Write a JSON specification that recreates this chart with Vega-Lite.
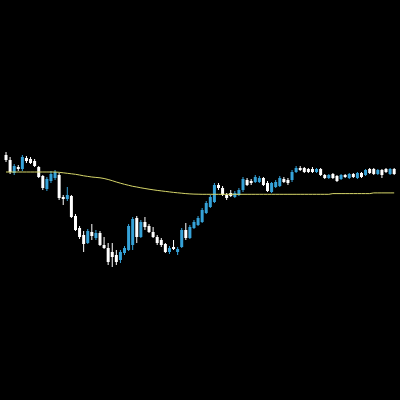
{
  "$schema": "https://vega.github.io/schema/vega-lite/v6.json",
  "width": 400,
  "height": 400,
  "padding": 0,
  "autosize": {"type": "fit", "contains": "padding"},
  "background": "#000000",
  "config": {"view": {"stroke": null}},
  "data": {"values": [
    {"t":0,"o":1.1245,"h":1.1248,"l":1.1238,"c":1.1240,"ma":1.1228},
    {"t":1,"o":1.1240,"h":1.1243,"l":1.1226,"c":1.1228,"ma":1.1228},
    {"t":2,"o":1.1227,"h":1.1236,"l":1.1225,"c":1.1234,"ma":1.1228},
    {"t":3,"o":1.1233,"h":1.1235,"l":1.1229,"c":1.1231,"ma":1.1228},
    {"t":4,"o":1.1231,"h":1.1245,"l":1.1229,"c":1.1243,"ma":1.1228},
    {"t":5,"o":1.1242,"h":1.1244,"l":1.1237,"c":1.1239,"ma":1.1228},
    {"t":6,"o":1.1241,"h":1.1243,"l":1.1236,"c":1.1237,"ma":1.1228},
    {"t":7,"o":1.1239,"h":1.1241,"l":1.1233,"c":1.1234,"ma":1.1228},
    {"t":8,"o":1.1233,"h":1.1234,"l":1.1222,"c":1.1223,"ma":1.1228},
    {"t":9,"o":1.1224,"h":1.1225,"l":1.1210,"c":1.1212,"ma":1.1228},
    {"t":10,"o":1.1211,"h":1.1223,"l":1.1209,"c":1.1221,"ma":1.1228},
    {"t":11,"o":1.1219,"h":1.1229,"l":1.1217,"c":1.1226,"ma":1.1228},
    {"t":12,"o":1.1222,"h":1.1230,"l":1.1220,"c":1.1228,"ma":1.1228},
    {"t":13,"o":1.1225,"h":1.1227,"l":1.1200,"c":1.1202,"ma":1.12277},
    {"t":14,"o":1.1203,"h":1.1205,"l":1.1195,"c":1.1201,"ma":1.12272},
    {"t":15,"o":1.1201,"h":1.1213,"l":1.1199,"c":1.1205,"ma":1.12267},
    {"t":16,"o":1.1204,"h":1.1205,"l":1.1182,"c":1.1183,"ma":1.12262},
    {"t":17,"o":1.1184,"h":1.1186,"l":1.1169,"c":1.1170,"ma":1.12257},
    {"t":18,"o":1.1172,"h":1.1174,"l":1.1161,"c":1.1163,"ma":1.1225},
    {"t":19,"o":1.1165,"h":1.1169,"l":1.1148,"c":1.1156,"ma":1.12242},
    {"t":20,"o":1.1157,"h":1.1171,"l":1.1156,"c":1.1169,"ma":1.12236},
    {"t":21,"o":1.1168,"h":1.1176,"l":1.1160,"c":1.1164,"ma":1.1223},
    {"t":22,"o":1.1162,"h":1.1170,"l":1.1160,"c":1.1167,"ma":1.12226},
    {"t":23,"o":1.1167,"h":1.1169,"l":1.1154,"c":1.1155,"ma":1.12222},
    {"t":24,"o":1.1155,"h":1.1163,"l":1.1151,"c":1.1152,"ma":1.12215},
    {"t":25,"o":1.1152,"h":1.1157,"l":1.1135,"c":1.1138,"ma":1.12205},
    {"t":26,"o":1.1148,"h":1.1157,"l":1.1133,"c":1.1143,"ma":1.12193},
    {"t":27,"o":1.1145,"h":1.1150,"l":1.1135,"c":1.1138,"ma":1.1218},
    {"t":28,"o":1.1140,"h":1.1150,"l":1.1137,"c":1.1148,"ma":1.12168},
    {"t":29,"o":1.1147,"h":1.1154,"l":1.1145,"c":1.1152,"ma":1.12157},
    {"t":30,"o":1.1150,"h":1.1176,"l":1.1149,"c":1.1174,"ma":1.12147},
    {"t":31,"o":1.1155,"h":1.1183,"l":1.1150,"c":1.1181,"ma":1.12137},
    {"t":32,"o":1.1182,"h":1.1184,"l":1.1157,"c":1.1163,"ma":1.1213},
    {"t":33,"o":1.1163,"h":1.1180,"l":1.1162,"c":1.1178,"ma":1.12122},
    {"t":34,"o":1.1178,"h":1.1183,"l":1.1170,"c":1.1173,"ma":1.12115},
    {"t":35,"o":1.1174,"h":1.1176,"l":1.1167,"c":1.1168,"ma":1.12108},
    {"t":36,"o":1.1168,"h":1.1173,"l":1.1162,"c":1.1163,"ma":1.12102},
    {"t":37,"o":1.1163,"h":1.1165,"l":1.1155,"c":1.1157,"ma":1.12096},
    {"t":38,"o":1.1160,"h":1.1162,"l":1.1153,"c":1.1155,"ma":1.12091},
    {"t":39,"o":1.1156,"h":1.1157,"l":1.1147,"c":1.1148,"ma":1.12086},
    {"t":40,"o":1.1148,"h":1.1154,"l":1.1146,"c":1.1152,"ma":1.12081},
    {"t":41,"o":1.1153,"h":1.1160,"l":1.1150,"c":1.1151,"ma":1.12076},
    {"t":42,"o":1.1148,"h":1.1153,"l":1.1145,"c":1.1151,"ma":1.12072},
    {"t":43,"o":1.1153,"h":1.1172,"l":1.1152,"c":1.1170,"ma":1.12068},
    {"t":44,"o":1.1170,"h":1.1177,"l":1.1160,"c":1.1162,"ma":1.12064},
    {"t":45,"o":1.1162,"h":1.1175,"l":1.1161,"c":1.1173,"ma":1.12061},
    {"t":46,"o":1.1172,"h":1.1180,"l":1.1171,"c":1.1178,"ma":1.12059},
    {"t":47,"o":1.1175,"h":1.1184,"l":1.1174,"c":1.1182,"ma":1.12058},
    {"t":48,"o":1.1178,"h":1.1192,"l":1.1177,"c":1.1190,"ma":1.12057},
    {"t":49,"o":1.1187,"h":1.1199,"l":1.1186,"c":1.1197,"ma":1.12057},
    {"t":50,"o":1.1193,"h":1.1205,"l":1.1192,"c":1.1203,"ma":1.12057},
    {"t":51,"o":1.1198,"h":1.1217,"l":1.1197,"c":1.1215,"ma":1.12057},
    {"t":52,"o":1.1215,"h":1.1217,"l":1.1210,"c":1.1212,"ma":1.12057},
    {"t":53,"o":1.1212,"h":1.1214,"l":1.1204,"c":1.1205,"ma":1.12057},
    {"t":54,"o":1.1205,"h":1.1207,"l":1.1200,"c":1.1202,"ma":1.12057},
    {"t":55,"o":1.1207,"h":1.1210,"l":1.1203,"c":1.1204,"ma":1.12057},
    {"t":56,"o":1.1203,"h":1.1209,"l":1.1202,"c":1.1207,"ma":1.12057},
    {"t":57,"o":1.1205,"h":1.1212,"l":1.1204,"c":1.1210,"ma":1.12057},
    {"t":58,"o":1.1210,"h":1.1223,"l":1.1208,"c":1.1221,"ma":1.12057},
    {"t":59,"o":1.1220,"h":1.1222,"l":1.1214,"c":1.1215,"ma":1.12057},
    {"t":60,"o":1.1219,"h":1.1221,"l":1.1215,"c":1.1217,"ma":1.12057},
    {"t":61,"o":1.1218,"h":1.1225,"l":1.1217,"c":1.1223,"ma":1.12057},
    {"t":62,"o":1.1218,"h":1.1224,"l":1.1217,"c":1.1222,"ma":1.12057},
    {"t":63,"o":1.1222,"h":1.1223,"l":1.1214,"c":1.1215,"ma":1.12057},
    {"t":64,"o":1.1217,"h":1.1219,"l":1.1208,"c":1.1209,"ma":1.12057},
    {"t":65,"o":1.1208,"h":1.1218,"l":1.1207,"c":1.1217,"ma":1.12057},
    {"t":66,"o":1.1213,"h":1.1220,"l":1.1212,"c":1.1218,"ma":1.12057},
    {"t":67,"o":1.1214,"h":1.1224,"l":1.1213,"c":1.1222,"ma":1.12057},
    {"t":68,"o":1.1221,"h":1.1223,"l":1.1217,"c":1.1218,"ma":1.12057},
    {"t":69,"o":1.1220,"h":1.1222,"l":1.1215,"c":1.1217,"ma":1.12057},
    {"t":70,"o":1.1220,"h":1.1230,"l":1.1218,"c":1.1228,"ma":1.12057},
    {"t":71,"o":1.1228,"h":1.1234,"l":1.1227,"c":1.1232,"ma":1.12057},
    {"t":72,"o":1.1232,"h":1.1234,"l":1.1229,"c":1.1230,"ma":1.12057},
    {"t":73,"o":1.1232,"h":1.1233,"l":1.1227,"c":1.1228,"ma":1.12057},
    {"t":74,"o":1.1231,"h":1.1232,"l":1.1227,"c":1.1228,"ma":1.12057},
    {"t":75,"o":1.1231,"h":1.1233,"l":1.1227,"c":1.1228,"ma":1.12057},
    {"t":76,"o":1.1228,"h":1.1232,"l":1.1227,"c":1.1231,"ma":1.12057},
    {"t":77,"o":1.1231,"h":1.1232,"l":1.1224,"c":1.1225,"ma":1.12057},
    {"t":78,"o":1.1225,"h":1.1226,"l":1.1221,"c":1.1222,"ma":1.12057},
    {"t":79,"o":1.1222,"h":1.1226,"l":1.1221,"c":1.1225,"ma":1.12057},
    {"t":80,"o":1.1226,"h":1.1227,"l":1.1221,"c":1.1222,"ma":1.12064},
    {"t":81,"o":1.1224,"h":1.1225,"l":1.1218,"c":1.1219,"ma":1.12064},
    {"t":82,"o":1.1221,"h":1.1226,"l":1.1220,"c":1.1225,"ma":1.12064},
    {"t":83,"o":1.1225,"h":1.1226,"l":1.1222,"c":1.1223,"ma":1.12064},
    {"t":84,"o":1.1222,"h":1.1227,"l":1.1221,"c":1.1226,"ma":1.12064},
    {"t":85,"o":1.1226,"h":1.1227,"l":1.1222,"c":1.1223,"ma":1.12064},
    {"t":86,"o":1.1222,"h":1.1228,"l":1.1221,"c":1.1227,"ma":1.12064},
    {"t":87,"o":1.1227,"h":1.1228,"l":1.1222,"c":1.1223,"ma":1.12064},
    {"t":88,"o":1.1225,"h":1.1231,"l":1.1224,"c":1.1230,"ma":1.12064},
    {"t":89,"o":1.1231,"h":1.1232,"l":1.1226,"c":1.1227,"ma":1.12064},
    {"t":90,"o":1.1231,"h":1.1232,"l":1.1225,"c":1.1226,"ma":1.12071},
    {"t":91,"o":1.1226,"h":1.1231,"l":1.1225,"c":1.1230,"ma":1.12071},
    {"t":92,"o":1.1230,"h":1.1231,"l":1.1222,"c":1.1225,"ma":1.12071},
    {"t":93,"o":1.1231,"h":1.1232,"l":1.1227,"c":1.1228,"ma":1.12071},
    {"t":94,"o":1.1226,"h":1.1232,"l":1.1225,"c":1.1231,"ma":1.12071},
    {"t":95,"o":1.1231,"h":1.1232,"l":1.1225,"c":1.1226,"ma":1.12071}
  ]},
  "encoding": {
    "x": {"field": "t", "type": "quantitative", "scale": {"domain": [-0.25, 95.2], "nice": false, "zero": false}, "axis": null}
  },
  "layer": [
    {
      "mark": {"type": "rule", "strokeWidth": 1},
      "encoding": {
        "y": {"field": "l", "type": "quantitative", "scale": {"domain": [1.1, 1.14], "nice": false, "zero": false}, "axis": null},
        "y2": {"field": "h"},
        "color": {"condition": {"test": "datum.c > datum.o", "value": "#35a2d8"}, "value": "#ffffff"}
      }
    },
    {
      "mark": {"type": "bar", "size": 3, "minBandSize": 1},
      "encoding": {
        "y": {"field": "o", "type": "quantitative"},
        "y2": {"field": "c"},
        "color": {"condition": {"test": "datum.c > datum.o", "value": "#35a2d8"}, "value": "#ffffff"}
      }
    },
    {
      "mark": {"type": "line", "strokeWidth": 1, "color": "#d6d66a"},
      "encoding": {
        "y": {"field": "ma", "type": "quantitative"}
      }
    }
  ]
}
